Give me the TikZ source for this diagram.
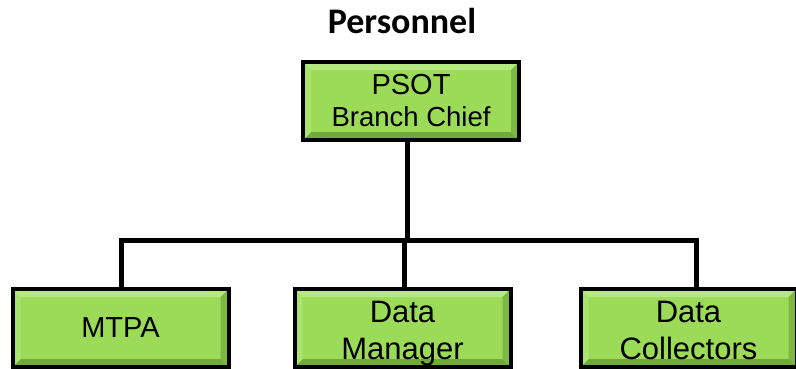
\documentclass[tikz,border=0pt]{standalone}
\usepackage{fontspec}
\newfontfamily\arialf{Liberation Sans}
\newfontfamily\calf{Carlito}
\usetikzlibrary{calc}
\definecolor{gmain}{RGB}{155,219,88}
\definecolor{gtop}{RGB}{182,233,128}
\definecolor{gleft}{RGB}{170,228,112}
\definecolor{gbot}{RGB}{112,170,58}
\definecolor{gright}{RGB}{124,184,66}
\tikzset{
  boxst/.style={draw=black, line width=4pt, fill=gmain, minimum width=216pt, minimum height=78pt,
    inner sep=0pt, align=center, text=black,
    path picture={
      \path (path picture bounding box.south west) coordinate (pA)
            (path picture bounding box.north east) coordinate (pB);
      \fill[gtop] (pA |- pB) -- (pB) -- ([xshift=-8pt,yshift=-8pt]pB) -- ([xshift=8pt,yshift=-8pt]pA |- pB) -- cycle;
      \fill[gbot] (pA) -- (pA -| pB) -- ([xshift=-8pt,yshift=8pt]pA -| pB) -- ([xshift=8pt,yshift=8pt]pA) -- cycle;
      \fill[gleft] (pA) -- (pA |- pB) -- ([xshift=8pt,yshift=-8pt]pA |- pB) -- ([xshift=8pt,yshift=8pt]pA) -- cycle;
      \fill[gright] (pA -| pB) -- (pB) -- ([xshift=-8pt,yshift=-8pt]pB) -- ([xshift=-8pt,yshift=8pt]pA -| pB) -- cycle;
    }},
  twoline/.style={font=\arialf\fontsize{31}{37}\selectfont, text depth=0pt, text height=62pt},
  conn/.style={line width=5pt, line join=miter, draw=black}
}
\begin{document}
\begin{tikzpicture}[x=1pt,y=-1pt]
\useasboundingbox (0,0) rectangle (796,368);
\node[anchor=base, font=\calf\bfseries\fontsize{36}{42}\selectfont] (title) at (402,33) {Personnel};
\node[boxst, font=\arialf\fontsize{29}{32}\selectfont] (psot) at (411,101) {PSOT\\{\fontsize{27.5}{32}\selectfont Branch Chief}};
\node[boxst, font=\arialf\fontsize{29}{34}\selectfont] (mtpa) at (120.5,328) {MTPA};
\node[boxst, twoline] (dm) at (402.5,328) {Data\\Manager};
\node[boxst, twoline] (dc) at (688.5,328) {Data\\Collectors};
\coordinate (busL) at (121,240);
\coordinate (busR) at (696,240);
\coordinate (busM) at (407,240);
\coordinate (busD) at (404,240);
\draw[conn] (busM |- psot.south) -- (busM);
\draw[conn] (busL |- mtpa.north) -- (busL) -- (busR) -- (busR |- dc.north);
\draw[conn] (busD) -- (busD |- dm.north);
\end{tikzpicture}
\end{document}
